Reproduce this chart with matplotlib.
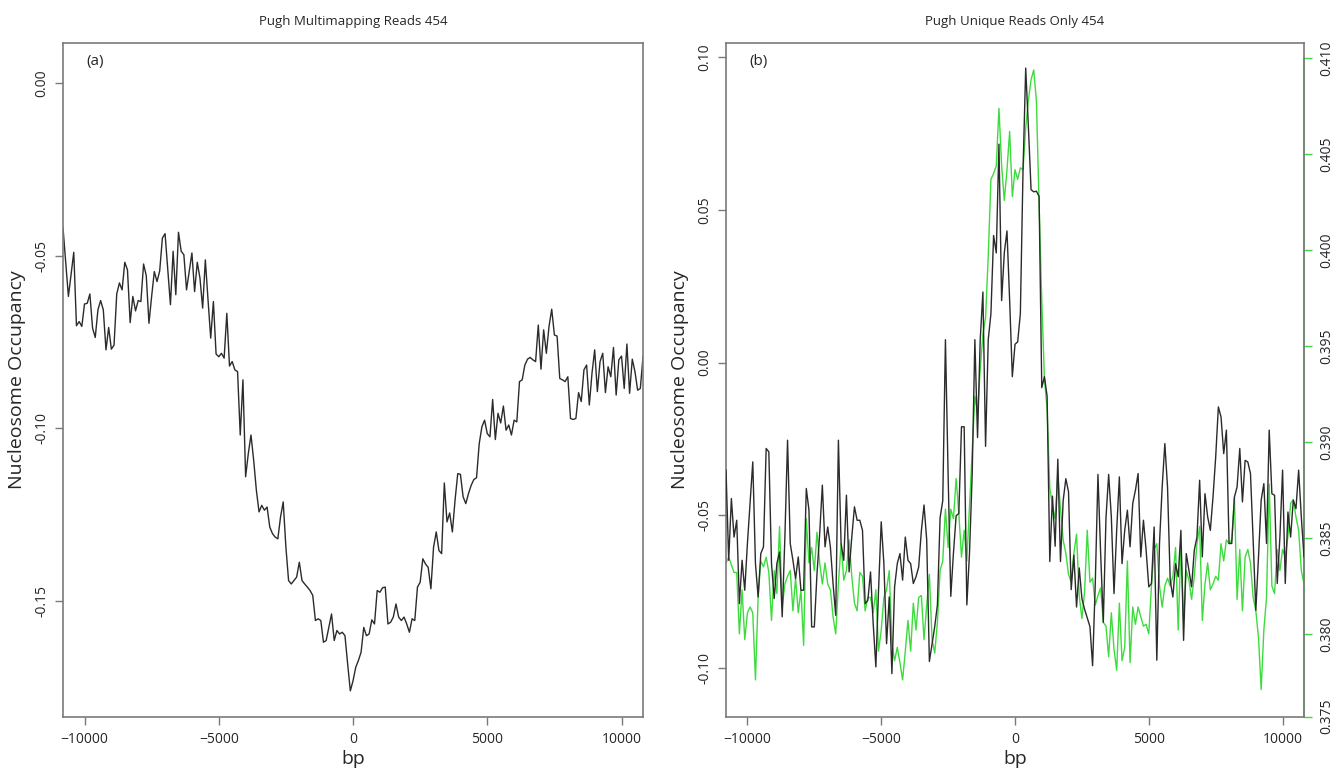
"""
Pugh 454 nucleosome occupancy profiles around a site (+/- 10.8 kb).
Left: multimapping reads. Right: unique reads only, with a second series on
its own (green) axis.
"""

import numpy as np
import matplotlib
matplotlib.use("Agg")
import matplotlib.pyplot as plt
from matplotlib.ticker import FixedLocator, FixedFormatter

plt.rcParams["font.family"] = ["Open Sans", "DejaVu Sans"]

# ── Data (100 bp bins, -10800 .. 10800) ─────────────────────────────────────
bp = np.arange(-10800, 10900, 100)

multimap_occ = [
    -0.0420, -0.0521, -0.0618, -0.0555, -0.0490, -0.0703, -0.0691, -0.0705, -0.0640, -0.0638,
    -0.0611, -0.0710, -0.0737, -0.0657, -0.0630, -0.0657, -0.0773, -0.0708, -0.0771, -0.0759,
    -0.0611, -0.0579, -0.0599, -0.0519, -0.0541, -0.0694, -0.0618, -0.0660, -0.0630, -0.0633,
    -0.0524, -0.0558, -0.0696, -0.0618, -0.0546, -0.0575, -0.0544, -0.0449, -0.0436, -0.0541,
    -0.0642, -0.0487, -0.0613, -0.0432, -0.0487, -0.0497, -0.0599, -0.0546, -0.0492, -0.0604,
    -0.0519, -0.0565, -0.0652, -0.0512, -0.0628, -0.0739, -0.0633, -0.0785, -0.0793, -0.0783,
    -0.0797, -0.0667, -0.0820, -0.0807, -0.0831, -0.0836, -0.1020, -0.0860, -0.1141, -0.1074,
    -0.1020, -0.1093, -0.1180, -0.1243, -0.1224, -0.1238, -0.1229, -0.1287, -0.1306, -0.1316,
    -0.1321, -0.1258, -0.1214, -0.1345, -0.1442, -0.1452, -0.1442, -0.1432, -0.1389, -0.1442,
    -0.1452, -0.1461, -0.1471, -0.1485, -0.1558, -0.1553, -0.1558, -0.1621, -0.1616, -0.1578,
    -0.1539, -0.1616, -0.1587, -0.1597, -0.1592, -0.1602, -0.1684, -0.1762, -0.1733, -0.1694,
    -0.1674, -0.1650, -0.1578, -0.1602, -0.1597, -0.1556, -0.1568, -0.1471, -0.1476, -0.1463,
    -0.1461, -0.1568, -0.1563, -0.1548, -0.1510, -0.1548, -0.1558, -0.1548, -0.1568, -0.1592,
    -0.1553, -0.1558, -0.1461, -0.1447, -0.1379, -0.1394, -0.1404, -0.1466, -0.1345, -0.1301,
    -0.1355, -0.1364, -0.1159, -0.1272, -0.1246, -0.1301, -0.1209, -0.1132, -0.1134, -0.1199,
    -0.1219, -0.1190, -0.1166, -0.1149, -0.1144, -0.1045, -0.0996, -0.0977, -0.1016, -0.1025,
    -0.0917, -0.1033, -0.0957, -0.0985, -0.0936, -0.1006, -0.0991, -0.1020, -0.0977, -0.0982,
    -0.0865, -0.0860, -0.0817, -0.0800, -0.0795, -0.0802, -0.0807, -0.0701, -0.0829, -0.0715,
    -0.0783, -0.0705, -0.0655, -0.0730, -0.0733, -0.0856, -0.0860, -0.0865, -0.0851, -0.0972,
    -0.0975, -0.0972, -0.0897, -0.0923, -0.0831, -0.0817, -0.0933, -0.0841, -0.0773, -0.0894,
    -0.0807, -0.0783, -0.0897, -0.0822, -0.0851, -0.0766, -0.0904, -0.0802, -0.0791, -0.0885,
    -0.0756, -0.0899, -0.0800, -0.0836, -0.0890, -0.0885, -0.0793,
]

unique_occ = [
    -0.0352, -0.0647, -0.0445, -0.0571, -0.0516, -0.0789, -0.0647, -0.0745, -0.0592, -0.0461,
    -0.0325, -0.0658, -0.0767, -0.0625, -0.0603, -0.0281, -0.0292, -0.0658, -0.0772, -0.0658,
    -0.0620, -0.0832, -0.0571, -0.0254, -0.0592, -0.0647, -0.0707, -0.0636, -0.0745, -0.0745,
    -0.0412, -0.0483, -0.0865, -0.0865, -0.0691, -0.0560, -0.0401, -0.0603, -0.0538, -0.0603,
    -0.0723, -0.0827, -0.0254, -0.0592, -0.0647, -0.0434, -0.0685, -0.0571, -0.0472, -0.0516,
    -0.0516, -0.0549, -0.0789, -0.0778, -0.0685, -0.0854, -0.0996, -0.0745, -0.0521, -0.0658,
    -0.0920, -0.0767, -0.1018, -0.0734, -0.0658, -0.0625, -0.0712, -0.0571, -0.0647, -0.0658,
    -0.0723, -0.0701, -0.0669,
    -0.0551, -0.0466, -0.0580, -0.0978, -0.0921, -0.0864, -0.0793, -0.0508, -0.0452, 0.0075,
    -0.0366, -0.0765, -0.0623, -0.0501, -0.0494, -0.0210, -0.0210, -0.0793, -0.0623, -0.0366,
    0.0075, -0.0245, 0.0075, 0.0231, -0.0274, 0.0075, 0.0160, 0.0416, 0.0359, 0.0715,
    0.0203, 0.0359, 0.0431, 0.0203, -0.0046, 0.0060, 0.0068, 0.0160, 0.0630, 0.0964,
    0.0772, 0.0566, 0.0559, 0.0561, 0.0544, -0.0082, -0.0046, -0.0110, -0.0651, -0.0437,
    -0.0601, -0.0316, -0.0651, -0.0452, -0.0380, -0.0423, -0.0743, -0.0630, -0.0800, -0.0672,
    -0.0772, -0.0807, -0.0836, -0.0864, -0.0992, -0.0722, -0.0366, -0.0623, -0.0850, -0.0508,
    -0.0366,
    -0.0505, -0.0756, -0.0549, -0.0374, -0.0658, -0.0549, -0.0483, -0.0603, -0.0461, -0.0418,
    -0.0363, -0.0636, -0.0516, -0.0614, -0.0734, -0.0723, -0.0538, -0.0974, -0.0592, -0.0407,
    -0.0265, -0.0407, -0.0712, -0.0767, -0.0658, -0.0701, -0.0549, -0.0909, -0.0625, -0.0680,
    -0.0734, -0.0614, -0.0571, -0.0385, -0.0636, -0.0429, -0.0505, -0.0549, -0.0440, -0.0309,
    -0.0145, -0.0178, -0.0298, -0.0221, -0.0592, -0.0592, -0.0440, -0.0407, -0.0281, -0.0456,
    -0.0320, -0.0325, -0.0363, -0.0581, -0.0811, -0.0636, -0.0450, -0.0396, -0.0592, -0.0221,
    -0.0429, -0.0434, -0.0723, -0.0571, -0.0352, -0.0723, -0.0489, -0.0571, -0.0450, -0.0478,
    -0.0352, -0.0505, -0.0636,
]

unique_green = [
    0.3837, 0.3840, 0.3836, 0.3832, 0.3832, 0.3800, 0.3823, 0.3797, 0.3811, 0.3814,
    0.3811, 0.3776, 0.3819, 0.3838, 0.3835, 0.3840, 0.3832, 0.3807, 0.3833, 0.3821,
    0.3856, 0.3814, 0.3826, 0.3830, 0.3833, 0.3812, 0.3829, 0.3811, 0.3823, 0.3794,
    0.3860, 0.3837, 0.3845, 0.3833, 0.3853, 0.3837, 0.3826, 0.3837, 0.3826, 0.3823,
    0.3809, 0.3800, 0.3826, 0.3847, 0.3828, 0.3833, 0.3849, 0.3830, 0.3816, 0.3812,
    0.3832, 0.3830, 0.3812, 0.3819, 0.3819, 0.3811, 0.3823, 0.3791, 0.3802, 0.3819,
    0.3823, 0.3833, 0.3795, 0.3786, 0.3793, 0.3785, 0.3776, 0.3791, 0.3807, 0.3791,
    0.3816, 0.3802, 0.3819,
    0.3820, 0.3797, 0.3815, 0.3831, 0.3797, 0.3790, 0.3806, 0.3833, 0.3838, 0.3865,
    0.3845, 0.3865, 0.3860, 0.3881, 0.3863, 0.3840, 0.3854, 0.3838, 0.3867, 0.3895,
    0.3924, 0.3915, 0.3938, 0.3956, 0.3965, 0.3997, 0.4037, 0.4040, 0.4044, 0.4074,
    0.4044, 0.4026, 0.4042, 0.4062, 0.4028, 0.4042, 0.4037, 0.4043, 0.4042, 0.4064,
    0.4078, 0.4089, 0.4094, 0.4078, 0.4024, 0.3974, 0.3933, 0.3917, 0.3876, 0.3867,
    0.3860, 0.3883, 0.3865, 0.3849, 0.3842, 0.3831, 0.3827, 0.3842, 0.3852, 0.3820,
    0.3808, 0.3822, 0.3854, 0.3827, 0.3829, 0.3815, 0.3820, 0.3824, 0.3806, 0.3804,
    0.3788,
    0.3811, 0.3792, 0.3781, 0.3816, 0.3786, 0.3793, 0.3838, 0.3785, 0.3814, 0.3805,
    0.3814, 0.3809, 0.3804, 0.3805, 0.3800, 0.3825, 0.3844, 0.3847, 0.3825, 0.3814,
    0.3825, 0.3829, 0.3825, 0.3830, 0.3845, 0.3802, 0.3847, 0.3807, 0.3833, 0.3828,
    0.3818, 0.3830, 0.3847, 0.3856, 0.3807, 0.3826, 0.3837, 0.3823, 0.3826, 0.3830,
    0.3828, 0.3847, 0.3838, 0.3849, 0.3847, 0.3849, 0.3871, 0.3818, 0.3844, 0.3812,
    0.3840, 0.3844, 0.3837, 0.3819, 0.3812, 0.3798, 0.3771, 0.3802, 0.3819, 0.3878,
    0.3825, 0.3821, 0.3844, 0.3833, 0.3844, 0.3840, 0.3851, 0.3868, 0.3870, 0.3861,
    0.3854, 0.3833, 0.3826,
]

x_ticks = [-10000, -5000, 0, 5000, 10000]
a_yticks = [0.00, -0.05, -0.10, -0.15]
b_yticks = [0.10, 0.05, 0.00, -0.05, -0.10]
green_ticks = [0.380, 0.385, 0.390, 0.395, 0.400, 0.405, 0.410]

BOX = "#7a7a7a"
TXT = "#262626"
LINE = "#2b2b2b"
GREEN = "#3ddc3d"


def style_axes(ax, yticks, ylim):
    ax.set_xlim(bp[0], bp[-1])
    ax.set_ylim(*ylim)
    ax.set_xticks(x_ticks)
    ax.set_yticks(yticks)
    ax.set_yticklabels([f"{t:.2f}" for t in yticks])
    for s in ax.spines.values():
        s.set_color(BOX)
        s.set_linewidth(1.2)
    ax.tick_params(axis="both", direction="out", length=6, width=1.0,
                   color=BOX, labelcolor=TXT, labelsize=10)
    ax.tick_params(axis="x", pad=5)
    ax.tick_params(axis="y", pad=4, labelrotation=90)
    for lab in ax.get_yticklabels():
        lab.set_va("center")
    ax.set_xlabel("bp", fontsize=14, color=TXT)
    ax.set_ylabel("Nucleosome Occupancy", fontsize=14, color=TXT)
    ax.xaxis.set_label_coords(0.5, -0.050)
    ax.yaxis.set_label_coords(-0.064, 0.5)


fig = plt.figure(figsize=(13.41, 7.71), dpi=100)
ax_a = fig.add_axes([0.0470, 0.0704, 0.4325, 0.8734])
ax_b = fig.add_axes([0.5414, 0.0704, 0.4310, 0.8734])

# (a) multimapping reads
ax_a.plot(bp, multimap_occ, color=LINE, linewidth=1.0)
style_axes(ax_a, a_yticks, (-0.1837, 0.0116))
ax_a.set_title("Pugh Multimapping Reads 454", fontsize=9.5, color=TXT, pad=13)
ax_a.text(0.04, 0.973, "(a)", transform=ax_a.transAxes, fontsize=11,
          color=TXT, va="center", ha="left")

# (b) unique reads only, green series on its own right-hand axis
ax_b.plot(bp, unique_occ, color=LINE, linewidth=1.0, zorder=3)
style_axes(ax_b, b_yticks, (-0.1159, 0.1045))
ax_b.set_title("Pugh Unique Reads Only 454", fontsize=9.5, color=TXT, pad=13)
ax_b.text(0.04, 0.973, "(b)", transform=ax_b.transAxes, fontsize=11,
          color=TXT, va="center", ha="left")

ax_g = ax_b.twinx()
ax_g.plot(bp, unique_green, color=GREEN, linewidth=1.0)
g_lo, g_hi = 0.37568, 0.41079
ax_g.set_ylim(g_lo, g_hi)
for name in ("top", "bottom", "left"):
    ax_g.spines[name].set_visible(False)
ax_g.spines["right"].set_color(GREEN)
ax_g.spines["right"].set_linewidth(1.2)
ax_g.spines["right"].set_bounds(g_lo, green_ticks[-1])
# the original axis labels its bottom end 0.375
g_pos = [g_lo] + green_ticks
ax_g.yaxis.set_major_locator(FixedLocator(g_pos))
ax_g.yaxis.set_major_formatter(FixedFormatter(["0.375"] + [f"{t:.3f}" for t in green_ticks]))
ax_g.tick_params(axis="y", direction="out", length=6, width=1.0, color=GREEN,
                 labelcolor=TXT, labelsize=10, pad=5, labelrotation=90)
for lab in ax_g.get_yticklabels():
    lab.set_va("center")

ax_b.set_zorder(ax_g.get_zorder() + 1)
ax_b.patch.set_visible(False)

fig.savefig("out.png", dpi=100)
